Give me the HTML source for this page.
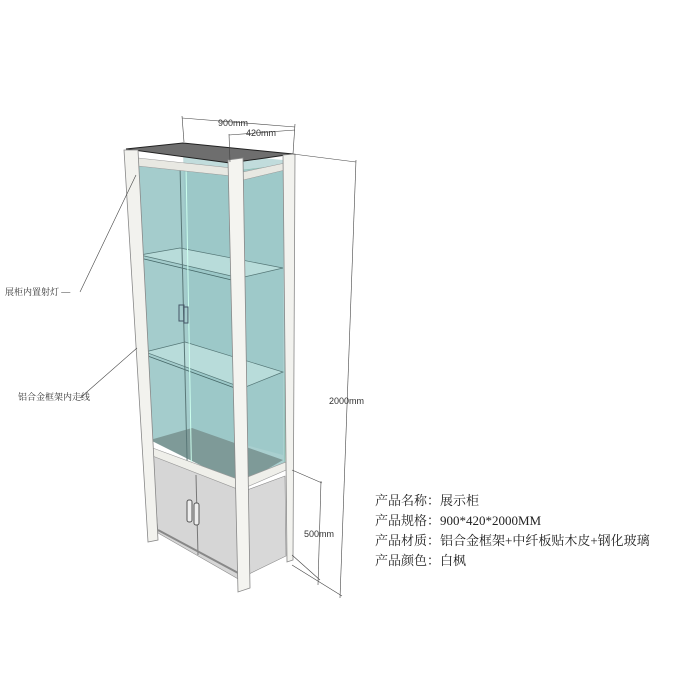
<!DOCTYPE html>
<html><head><meta charset="utf-8"><style>
html,body{margin:0;padding:0;background:#fff;width:700px;height:700px;overflow:hidden}
svg{display:block}
.t{font-family:"Liberation Sans",sans-serif;font-size:9px;fill:#333}
.c{font-family:"Liberation Serif","Noto Serif CJK SC",serif;font-size:13px;fill:#222}
.s{font-family:"Liberation Serif","Noto Serif CJK SC",serif;font-size:9px;fill:#333}
</style></head><body>
<svg width="700" height="700" viewBox="0 0 700 700" xmlns="http://www.w3.org/2000/svg">
<!-- side glass -->
<polygon points="243,170 285,165 285,470 243,485" fill="#a9cfcf" stroke="#6a8" stroke-width="0.5"/>
<!-- back glass visible through front -->
<polygon points="138,160 232,170 236,455 148,440" fill="#a4cccc"/>
<polygon points="183,150 283,160 283,455 190,430" fill="#98c4c4" opacity="0.6"/>
<!-- glass bottom -->
<polygon points="150,440 192,428 283,460 240,485" fill="#7e9a98"/>
<!-- shelves -->
<polygon points="140,255 180,248 283,268 240,278" fill="#b8dcda" stroke="#577" stroke-width="0.7"/>
<polygon points="145,352 185,342 283,372 243,388" fill="#b8dcda" stroke="#577" stroke-width="0.7"/>
<line x1="140" y1="258" x2="240" y2="282" stroke="#466" stroke-width="0.8"/>
<line x1="145" y1="355" x2="243" y2="391" stroke="#466" stroke-width="0.8"/>
<!-- door seam -->
<line x1="180" y1="165" x2="188" y2="500" stroke="#5a7878" stroke-width="1"/>
<line x1="186" y1="165" x2="192" y2="500" stroke="#cfe" stroke-width="1"/>
<rect x="179" y="305" width="5" height="16" fill="none" stroke="#456" stroke-width="1"/>
<rect x="184" y="307" width="4" height="16" fill="none" stroke="#456" stroke-width="1"/>
<!-- cabinet front -->
<polygon points="152,455 240,490 240,580 158,533" fill="#d6d6d6" stroke="#888" stroke-width="0.6"/>
<line x1="196" y1="475" x2="198" y2="555" stroke="#777"/>
<rect x="187" y="500" width="5" height="22" rx="2" fill="#eee" stroke="#555"/>
<rect x="194" y="503" width="5" height="22" rx="2" fill="#eee" stroke="#555"/>
<line x1="158" y1="530" x2="240" y2="574" stroke="#888" stroke-width="2"/>
<!-- cabinet side -->
<polygon points="247,490 285,476 286,556 247,575" fill="#d8d8d8" stroke="#888" stroke-width="0.6"/>
<!-- rails -->
<polygon points="150,447 240,480 286,462 286,470 240,490 150,455" fill="#efefea" stroke="#999" stroke-width="0.6"/>
<polygon points="138,158 232,168 232,176 138,166" fill="#e8e8e2" stroke="#999" stroke-width="0.5"/>
<polygon points="243,172 285,163 285,170 243,180" fill="#e8e8e2" stroke="#999" stroke-width="0.5"/>
<!-- top -->
<polygon points="126,149 183,143 293,154 230,163" fill="#6e6e6e" stroke="#222" stroke-width="1"/>
<!-- posts -->
<polygon points="124,150 138,150 158,540 148,542" fill="#f2f2ee" stroke="#888" stroke-width="0.8"/>
<polygon points="228,160 243,158 250,588 238,592" fill="#f4f4f0" stroke="#888" stroke-width="0.8"/>
<polygon points="283,155 295,154 293,560 287,562" fill="#f2f2ee" stroke="#888" stroke-width="0.8"/>
<!-- dimension lines -->
<g stroke="#444" stroke-width="0.6" fill="none">
<line x1="182" y1="116" x2="184" y2="142"/>
<line x1="182" y1="118" x2="295" y2="127"/>
<line x1="295" y1="124" x2="293" y2="154"/>
<line x1="229" y1="134" x2="230" y2="162"/>
<line x1="229" y1="135" x2="295" y2="130"/>
<line x1="293" y1="154" x2="356" y2="162"/>
<line x1="356" y1="160" x2="340" y2="598"/>
<line x1="292" y1="565" x2="342" y2="596"/>
<line x1="292" y1="470" x2="322" y2="483"/>
<line x1="321" y1="481" x2="318" y2="585"/>
<line x1="292" y1="555" x2="320" y2="580"/>
<line x1="80" y1="292" x2="136" y2="175"/>
<line x1="80" y1="398" x2="137" y2="348"/>
</g>
<text x="218" y="126" class="t">900mm</text>
<text x="246" y="136" class="t">420mm</text>
<text x="329" y="404" class="t">2000mm</text>
<text x="304" y="537" class="t">500mm</text>
<text x="5" y="295" class="s">展柜内置射灯 —</text>
<text x="18" y="400" class="s">铝合金框架内走线</text>
<text x="375" y="505" class="c">产品名称：展示柜</text>
<text x="375" y="525" class="c">产品规格：900*420*2000MM</text>
<text x="375" y="545" class="c">产品材质：铝合金框架+中纤板贴木皮+钢化玻璃</text>
<text x="375" y="565" class="c">产品颜色：白枫</text>
</svg>
</body></html>
